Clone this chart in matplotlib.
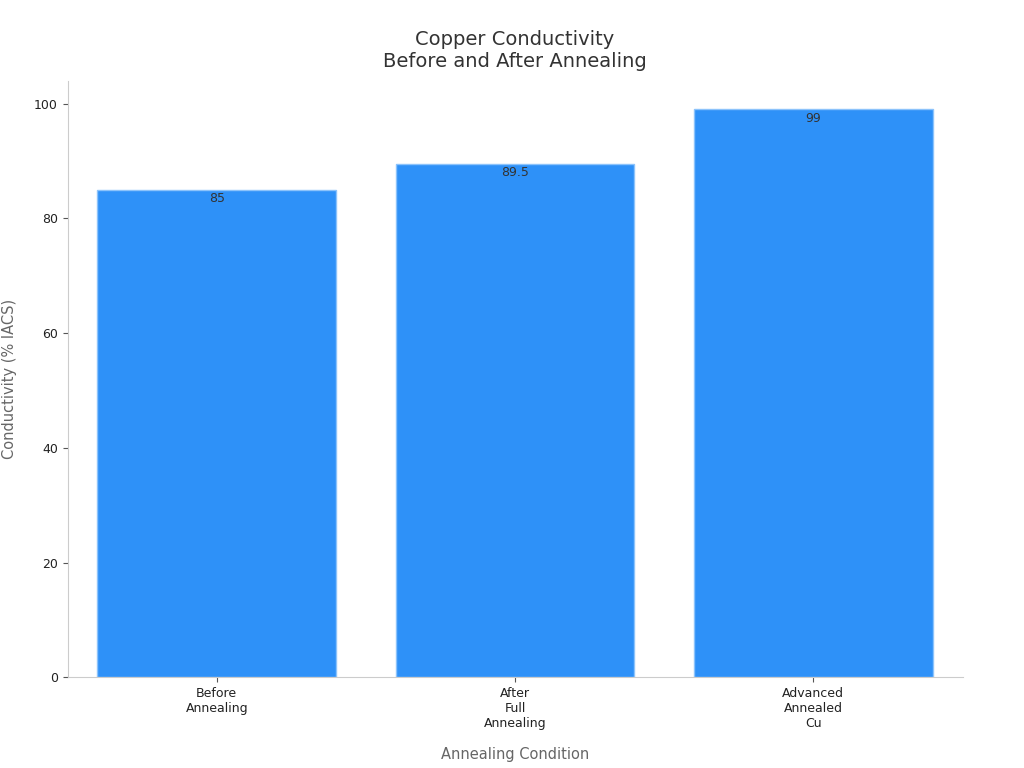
import matplotlib.pyplot as plt

categories = ["Before\nAnnealing", "After\nFull\nAnnealing", "Advanced\nAnnealed\nCu"]
conductivity = [85, 89.5, 99]
value_labels = ["85", "89.5", "99"]

fig, ax = plt.subplots(figsize=(10.24, 7.68), dpi=100)
fig.subplots_adjust(left=0.066, right=0.94, top=0.895, bottom=0.118)

bars = ax.bar(range(len(categories)), conductivity, width=0.8,
              color='#2e91f8', edgecolor='#8cc3fb', linewidth=1)
for bar, lab in zip(bars, value_labels):
    ax.text(bar.get_x() + bar.get_width() / 2, bar.get_height() - 0.4, lab,
            ha='center', va='top', fontsize=9, color='#333333')

ax.set_xticks(range(len(categories)))
ax.set_xticklabels(categories, fontsize=9, color='#222222')
ax.set_xlim(-0.5, 2.5)
ax.set_ylim(0, 104)
ax.set_yticks([0, 20, 40, 60, 80, 100])
ax.tick_params(axis='y', labelsize=9)
ax.tick_params(colors='#555555')
for lab in ax.get_yticklabels() + ax.get_xticklabels():
    lab.set_color('#222222')

ax.set_xlabel('Annealing Condition', fontsize=10.5, color='#666666', labelpad=12)
ax.set_ylabel('Conductivity (% IACS)', fontsize=10.5, color='#666666', labelpad=12)
ax.set_title('Copper Conductivity\nBefore and After Annealing', fontsize=14,
             color='#333333', pad=10)

for s in ['top', 'right']:
    ax.spines[s].set_visible(False)
for s in ['left', 'bottom']:
    ax.spines[s].set_color('#cccccc')

plt.savefig('out.png')
